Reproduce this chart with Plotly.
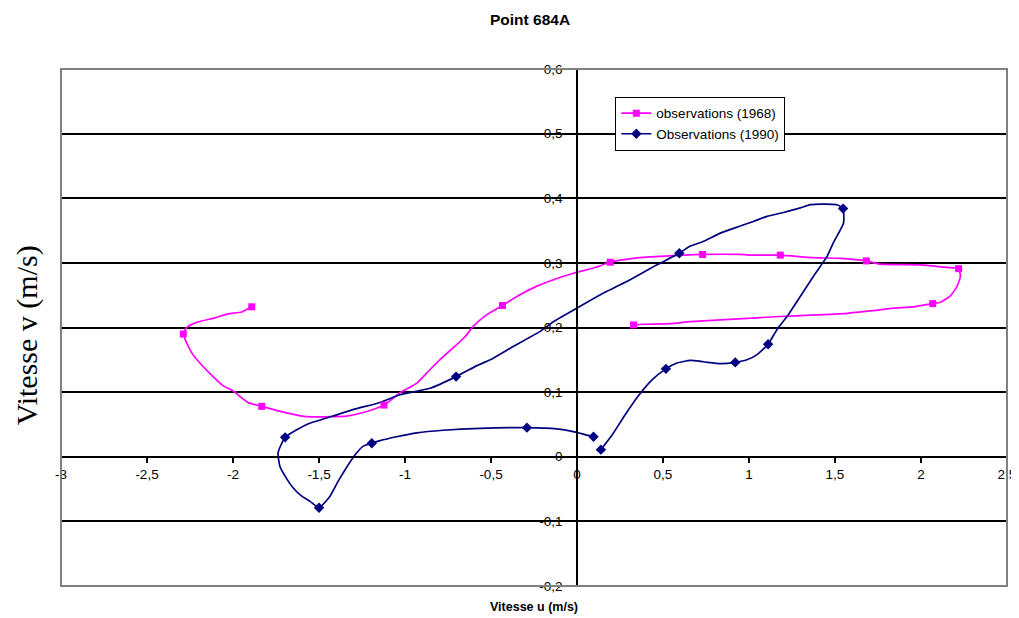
import plotly.graph_objects as go

# ---- data ----
u_1968 = [-1.891, -1.949, -2.029, -2.105, -2.211, -2.269, -2.289, -2.269, -2.233, -2.182,
          -2.116, -2.058, -2.000, -1.959, -1.913, -1.833, -1.688, -1.571, -1.418, -1.339,
          -1.222, -1.122, -1.029, -0.931, -0.854, -0.778, -0.709, -0.650, -0.602, -0.524,
          -0.433, -0.350, -0.233, -0.137, -0.020, 0.096, 0.193, 0.327, 0.484, 0.730,
          0.949, 1.025, 1.182, 1.374, 1.531, 1.682, 1.764, 1.997, 2.152, 2.219,
          2.229, 2.210, 2.171, 2.113, 2.068, 1.956, 1.839, 1.723, 1.570, 1.357,
          1.182, 0.909, 0.659, 0.542, 0.385, 0.329]
v_1968 = [0.232, 0.224, 0.221, 0.215, 0.208, 0.200, 0.190, 0.176, 0.158, 0.142,
          0.124, 0.110, 0.102, 0.093, 0.084, 0.078, 0.068, 0.062, 0.062, 0.063,
          0.070, 0.080, 0.099, 0.114, 0.135, 0.155, 0.171, 0.186, 0.202, 0.220,
          0.234, 0.248, 0.264, 0.274, 0.284, 0.292, 0.301, 0.307, 0.310, 0.313,
          0.313, 0.312, 0.312, 0.308, 0.307, 0.303, 0.298, 0.297, 0.293, 0.291,
          0.279, 0.264, 0.249, 0.239, 0.237, 0.232, 0.230, 0.226, 0.222, 0.219,
          0.217, 0.213, 0.209, 0.206, 0.205, 0.204]
marks_1968 = [0, 6, 15, 21, 30, 36, 39, 42, 45, 49, 54, 65]

u_1990 = [0.139, 0.205, 0.280, 0.356, 0.436, 0.517, 0.581, 0.659, 0.734, 0.833,
          0.920, 0.988, 1.047, 1.111, 1.163, 1.221, 1.298, 1.374, 1.454, 1.490,
          1.531, 1.550, 1.547, 1.512, 1.415, 1.357, 1.298, 1.200, 1.105, 1.025,
          0.949, 0.833, 0.734, 0.659, 0.595, 0.465, 0.309, 0.174, 0.019, -0.137,
          -0.214, -0.369, -0.505, -0.582, -0.703, -0.854, -1.029, -1.145, -1.302, -1.418,
          -1.571, -1.697, -1.738, -1.727, -1.697, -1.651, -1.600, -1.552, -1.500, -1.436,
          -1.389, -1.348, -1.290, -1.244, -1.193, -1.145, -1.048, -0.931, -0.778, -0.563,
          -0.291, -0.117, -0.022, 0.096]
v_1990 = [0.011, 0.034, 0.065, 0.094, 0.119, 0.136, 0.145, 0.149, 0.147, 0.144,
          0.146, 0.150, 0.158, 0.174, 0.197, 0.217, 0.248, 0.279, 0.310, 0.331,
          0.351, 0.362, 0.384, 0.390, 0.391, 0.390, 0.385, 0.378, 0.372, 0.364,
          0.357, 0.346, 0.333, 0.326, 0.315, 0.297, 0.274, 0.256, 0.233, 0.209,
          0.194, 0.171, 0.150, 0.141, 0.124, 0.106, 0.096, 0.084, 0.073, 0.063,
          0.050, 0.030, 0.006, -0.015, -0.030, -0.048, -0.061, -0.069, -0.079, -0.061,
          -0.038, -0.020, 0.003, 0.016, 0.021, 0.025, 0.031, 0.037, 0.041, 0.044,
          0.045, 0.043, 0.039, 0.031]
marks_1990 = [0, 5, 10, 13, 22, 34, 44, 51, 58, 64, 70, 73]

x_tickvals = [-3, -2.5, -2, -1.5, -1, -0.5, 0, 0.5, 1, 1.5, 2, 2.5]
x_ticktext = ["-3", "-2,5", "-2", "-1,5", "-1", "-0,5", "0", "0,5", "1", "1,5", "2", "2,5"]
y_tickvals = [-0.2, -0.1, 0, 0.1, 0.2, 0.3, 0.4, 0.5, 0.6]
y_ticktext = ["-0,2", "-0,1", "0", "0,1", "0,2", "0,3", "0,4", "0,5", "0,6"]

name_1968 = "observations (1968)"
name_1990 = "Observations (1990)"
MAG = "#FF00FF"
NAVY = "#000080"

fig = go.Figure()

# lines
fig.add_trace(go.Scatter(x=u_1968, y=v_1968, mode="lines", showlegend=False,
                         line=dict(color=MAG, width=1.7, shape="spline", smoothing=0.5),
                         hoverinfo="skip"))
fig.add_trace(go.Scatter(x=u_1990, y=v_1990, mode="lines", showlegend=False,
                         line=dict(color=NAVY, width=1.7, shape="spline", smoothing=0.5),
                         hoverinfo="skip"))
# markers
fig.add_trace(go.Scatter(x=[u_1968[i] for i in marks_1968], y=[v_1968[i] for i in marks_1968],
                         mode="markers", showlegend=False,
                         marker=dict(color=MAG, symbol="square", size=7)))
fig.add_trace(go.Scatter(x=[u_1990[i] for i in marks_1990], y=[v_1990[i] for i in marks_1990],
                         mode="markers", showlegend=False,
                         marker=dict(color=NAVY, symbol="diamond", size=8)))
# legend entries
fig.add_trace(go.Scatter(x=[None], y=[None], mode="lines+markers", name=name_1968,
                         line=dict(color=MAG, width=1.7),
                         marker=dict(color=MAG, symbol="square", size=7)))
fig.add_trace(go.Scatter(x=[None], y=[None], mode="lines+markers", name=name_1990,
                         line=dict(color=NAVY, width=1.7),
                         marker=dict(color=NAVY, symbol="diamond", size=8)))

FONT = "Liberation Sans, Arial, sans-serif"

# the page body adds an 8px offset, so the figure is 8px smaller and margins shifted
fig.update_layout(
    width=1011, height=610, autosize=False,
    margin=dict(l=53, r=12, t=61, b=32, autoexpand=False),
    paper_bgcolor="white", plot_bgcolor="white",
    font=dict(family=FONT, size=12, color="black"),
    xaxis=dict(range=[-3, 2.5], tickvals=x_tickvals, ticktext=x_ticktext,
               showgrid=False, zeroline=False, showline=True, linecolor="black", linewidth=1.5,
               ticks="outside", ticklen=5, tickcolor="black", tickwidth=1.5,
               anchor="free", position=0.25, automargin=False,
               tickfont=dict(size=13.5, family=FONT, color="black")),
    yaxis=dict(range=[-0.2, 0.6], tickvals=y_tickvals, ticktext=y_ticktext,
               showgrid=True, gridcolor="black", gridwidth=1.5, zeroline=False,
               showline=True, linecolor="black", linewidth=1.5,
               ticks="outside", ticklen=4, tickcolor="black", tickwidth=1.5,
               anchor="free", position=3 / 5.5, domain=[0, 1], automargin=False,
               ticklabelstandoff=7,
               tickfont=dict(size=13.5, family=FONT, color="black")),
    legend=dict(x=0.586, y=0.946, xanchor="left", yanchor="top",
                bgcolor="white", bordercolor="black", borderwidth=1,
                font=dict(size=13.5, family=FONT), tracegroupgap=0, itemwidth=30),
    shapes=[dict(type="rect", xref="paper", yref="paper", x0=0, x1=1, y0=0, y1=1,
                 line=dict(color="#808080", width=2), layer="above")],
    annotations=[
        dict(text="<b>Point 684A</b>", xref="paper", yref="paper", x=0.496, y=1.095,
             showarrow=False, font=dict(size=15.5, family=FONT), xanchor="center", yanchor="middle"),
        dict(text="<b>Vitesse u (m/s)</b>", xref="paper", yref="paper", x=0.5, y=-0.041,
             showarrow=False, font=dict(size=12.5, family=FONT), xanchor="center", yanchor="middle"),
        dict(text="Vitesse v (m/s)", xref="paper", yref="paper", x=-0.036, y=0.485,
             showarrow=False, textangle=-90,
             font=dict(size=30, family="Liberation Serif, Times New Roman, serif"),
             xanchor="center", yanchor="middle"),
    ],
)

fig.write_html("out.html")
